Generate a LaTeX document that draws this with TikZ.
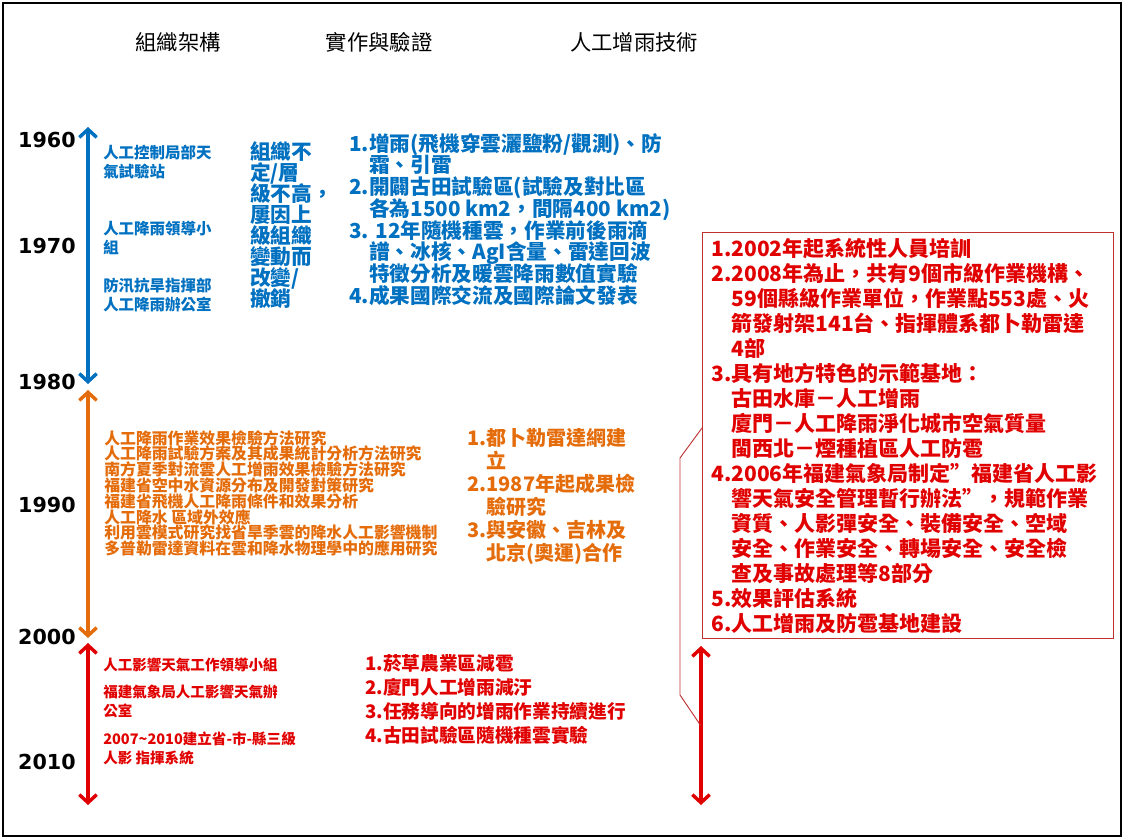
\documentclass[tikz,border=0pt]{standalone}
\usepackage{fontspec}
\setmainfont{Noto Sans CJK TC}
\newfontfamily\yearfont{DejaVu Sans}
\usepackage{tikz}
\usetikzlibrary{
arrows.meta,
calc,
}
\definecolor{tblue}{RGB}{0,112,192}
\definecolor{torange}{RGB}{228,108,10}
\definecolor{tred}{RGB}{225,0,0}
\definecolor{boxred}{RGB}{190,50,50}

\begin{document}
\begin{tikzpicture}[x=0.75pt,y=-0.75pt,
	every node/.style={inner sep=0pt,execute at begin node={\lineskiplimit=-50pt}},
	hdr/.style={font=\fontsize{16pt}{18pt}\selectfont},
	yr/.style={anchor=east,font=\yearfont\bfseries\fontsize{15.5pt}{18pt}\selectfont},
	era/.style={line width=2.6pt,>={Straight Barb[length=6pt,width=13pt]},<->},
	orgtxt/.style={anchor=north west,align=left,font=\bfseries\fontsize{11.6pt}{14.25pt}\selectfont},
	bigtxt/.style={anchor=north west,align=left,font=\bfseries\fontsize{15.5pt}{15.75pt}\selectfont},
	listtxt/.style={anchor=north west,align=left,font=\bfseries\fontsize{15.5pt}{16.3pt}\selectfont},
	]
		\useasboundingbox (0,0) rectangle (1124,839);
		\draw[line width=1.6pt] (3,3) rectangle (1121,836);

		\node[hdr] (H1) at (178,42) {組織架構};
		\node[hdr] (H2) at (379,42) {實作與驗證};
		\node[hdr] (H3) at (634,42) {人工增雨技術};

		\node[yr] (Y1960) at (76,140) {1960};
		\node[yr] (Y1970) at (76,246) {1970};
		\node[yr] (Y1980) at (76,382) {1980};
		\node[yr] (Y1990) at (76,505) {1990};
		\node[yr] (Y2000) at (76,637) {2000};
		\node[yr] (Y2010) at (76,762) {2010};

		\coordinate (B1) at (88,127);
		\coordinate (B2) at (88,384);
		\coordinate (O1) at (88,390);
		\coordinate (O2) at (88,638);
		\coordinate (R1) at (88,643);
		\coordinate (R2) at (88,805);
		\coordinate (R3) at (701,646);
		\coordinate (R4) at (701,805);
		\coordinate (R5) at (701,726);

		\draw[era,tblue] (B1) -- (B2);
		\draw[era,torange] (O1) -- (O2);
		\draw[era,tred] (R1) -- (R2);
		\draw[era,tred] (R3) -- (R4);

		% 1960--1980
		\node[orgtxt,tblue] (OrgA) at (103,145) {人工控制局部天\\氣試驗站};
		\node[orgtxt,tblue] (OrgB) at (103,221) {人工降雨領導小\\組};
		\node[orgtxt,tblue] (OrgC) at (103,278) {防汛抗旱指揮部\\人工降雨辦公室};
		\node[bigtxt,tblue] (OrgD) at (250,141) {組織不\\定/層\\級不高，\\屢因上\\級組織\\變動而\\改變/\\撤銷};
		\node[listtxt,tblue] (ExpA) at (349,133) {1.增雨(飛機穿雲灑鹽粉/觀測)、防\\
			\phantom{1.}霜、引雷\\
			2.開闢古田試驗區(試驗及對比區\\
			\phantom{1.}各為1500 km2，間隔400 km2)\\
			3. 12年隨機種雲，作業前後雨滴\\
			\phantom{1.}譜、冰核、AgI含量、雷達回波\\
			\phantom{1.}特徵分析及暖雲降雨數值實驗\\
			4.成果國際交流及國際論文發表};

		% 1980--2000
		\node[anchor=north west,align=left,torange,font=\bfseries\fontsize{11.9pt}{11.85pt}\selectfont] (OrgE) at (104,430) {人工降雨作業效果檢驗方法研究\\
			人工降雨試驗方案及其成果統計分析方法研究\\
			南方夏季對流雲人工增雨效果檢驗方法研究\\
			福建省空中水資源分布及開發對策研究\\
			福建省飛機人工降雨條件和效果分析\\
			人工降水 區域外效應\\
			利用雲模式研究找省旱季雲的降水人工影響機制\\
			多普勒雷達資料在雲和降水物理學中的應用研究};
		\node[anchor=north west,align=left,torange,font=\bfseries\fontsize{15pt}{17.25pt}\selectfont] (ExpB) at (467,428) {1.都卜勒雷達網建\\
			\phantom{1.}立\\
			2.1987年起成果檢\\
			\phantom{1.}驗研究\\
			3.與安徽、吉林及\\
			\phantom{1.}北京(奧運)合作};

		% 2000--2010
		\node[anchor=north west,align=left,tred,font=\bfseries\fontsize{10.9pt}{14.25pt}\selectfont] (OrgF) at (103,658) {人工影響天氣工作領導小組};
		\node[anchor=north west,align=left,tred,font=\bfseries\fontsize{10.9pt}{14.25pt}\selectfont] (OrgG) at (103,685) {福建氣象局人工影響天氣辦\\公室};
		\node[anchor=north west,align=left,tred,font=\bfseries\fontsize{10.9pt}{14.25pt}\selectfont] (OrgH) at (103,732) {2007\textasciitilde2010建立省-市-縣三級\\人影 指揮系統};
		\node[anchor=north west,align=left,tred,font=\bfseries\fontsize{14pt}{18pt}\selectfont] (ExpC) at (365,654) {1.菸草農業區減雹\\
			2.廈門人工增雨減汙\\
			3.任務導向的增雨作業持續進行\\
			4.古田試驗區隨機種雲實驗};

		\node[draw=boxred,line width=.9pt,anchor=north west,minimum width=308.25pt,minimum height=304.5pt] (techbox) at (702,232) {};
		\node[anchor=north west,align=left,tred,font=\bfseries\fontsize{15.75pt}{18.75pt}\selectfont] (TechA) at (711,238) {1.2002年起系統性人員培訓\\
			2.2008年為止，共有9個市級作業機構、\\
			\phantom{1.}59個縣級作業單位，作業點553處、火\\
			\phantom{1.}箭發射架141台、指揮體系都卜勒雷達\\
			\phantom{1.}4部\\
			3.具有地方特色的示範基地：\\
			\phantom{1.}古田水庫－人工增雨\\
			\phantom{1.}廈門－人工降雨淨化城市空氣質量\\
			\phantom{1.}閩西北－煙種植區人工防雹\\
			4.2006年福建氣象局制定”福建省人工影\\
			\phantom{1.}響天氣安全管理暫行辦法”，規範作業\\
			\phantom{1.}資質、人影彈安全、裝備安全、空域\\
			\phantom{1.}安全、作業安全、轉場安全、安全檢\\
			\phantom{1.}查及事故處理等8部分\\
			5.效果評估系統\\
			6.人工增雨及防雹基地建設};
		\coordinate (P1) at (680,458);
		\coordinate (P2) at (680,695);
		\draw[boxred,line width=.7pt] (techbox.west |- 0,428) -- (P1) -- (P2) -- (R5);
	\end{tikzpicture}
\end{document}
